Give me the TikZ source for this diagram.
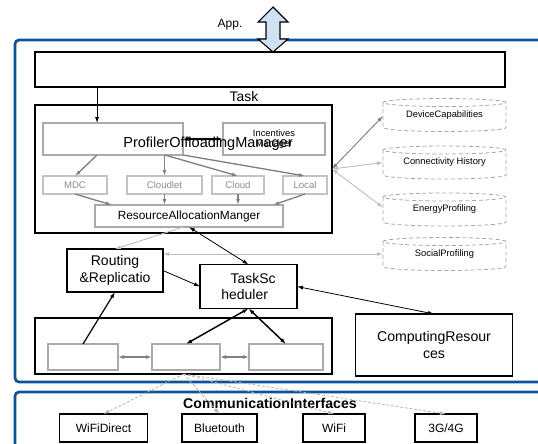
\documentclass[tikz,border=0pt]{standalone}
\usepackage{fontspec}
\setmainfont{Liberation Sans}
\usetikzlibrary{arrows.meta,calc}
\definecolor{bframe}{RGB}{12,82,148}
\definecolor{lblue}{RGB}{207,226,243}
\definecolor{gline}{RGB}{128,128,128}
\definecolor{gbox}{RGB}{170,170,170}
\definecolor{lgbox}{RGB}{195,195,195}
\definecolor{gtext}{RGB}{140,140,140}
\definecolor{lgline}{RGB}{190,190,190}
\newcommand\cylout[1]{%
  \draw[cylline] ($(#1.north)+(0,4)$) ellipse [x radius=46.125pt, y radius=3pt];
  \draw[cylline] ($(#1.north west)+(0,4)$) -- ($(#1.south west)-(0,4)$)
     arc[start angle=180, end angle=360, x radius=46.125pt, y radius=3pt]
     -- ($(#1.north east)+(0,4)$);}
\begin{document}
\begin{tikzpicture}[x=0.75pt,y=-0.75pt,
  >={Latex[length=4.5pt,width=3pt]},
  every node/.style={inner sep=0pt, outer sep=0pt, font=\fontsize{9}{11}\selectfont},
  bbox/.style={draw=black, line width=0.9pt, fill=white, align=center},
  gbx/.style={draw=gbox, line width=0.9pt, fill=white, align=center},
  rowbox/.style={draw=lgbox, line width=0.8pt, fill=white, text=gtext, font=\fontsize{7.2}{8}\selectfont, minimum height=13.5pt},
  cylnode/.style={minimum width=92.25pt, minimum height=24.75pt, font=\fontsize{7}{8}\selectfont},
  cylline/.style={draw=gray!70, line width=0.6pt, dash pattern=on 3pt off 2pt},
  ifbox/.style={draw=black, line width=0.9pt, minimum height=21pt, font=\fontsize{9}{11}\selectfont},
  darr/.style={draw=black, line width=0.6pt},
  garr/.style={draw=gline, line width=1pt, ->},
  lgarr/.style={draw=lgline, line width=0.7pt},
  dasharr/.style={draw=gray!60, line width=0.6pt, dash pattern=on 2pt off 1.5pt, ->},
  bluebox/.style={draw=bframe, line width=2pt, rounded corners=3pt}
]
\useasboundingbox (0,0) rectangle (538,443);
\clip (0,0) rectangle (538,443);

% blue frames
\draw[bluebox] (15,40) rectangle (590,382);
\draw[bluebox] (15,392) rectangle (590,480);

% App double arrow
\draw[fill=lblue, line width=0.8pt, line join=miter] (273,7) -- (288,22) -- (280,22) -- (280,39) -- (288,39) -- (273,52) -- (258,39) -- (266,39) -- (266,22) -- (258,22) -- cycle;
\node (app) at (230,25) {App.};

% top box
\node[bbox, minimum width=352.5pt, minimum height=26.25pt] (topbox) at (270,69.5) {};
\node[font=\fontsize{10.4}{12}\selectfont] (tasklbl) at (244,97) {Task};

% task box
\node[bbox, minimum width=222.75pt, minimum height=96pt] (taskbox) at (183.5,169) {};
\node[gbx, minimum width=105pt, minimum height=24pt] (prof) at (113,139) {};
\node[gbx, minimum width=76.5pt, minimum height=24pt, font=\fontsize{7}{7.5}\selectfont] (incent) at (274,139) {Incentives\\Manager};
\node[font=\fontsize{10.9}{12}\selectfont] (proftext) at (208,144) {ProfilerOffloadingManager};

\node[rowbox, minimum width=48pt] (mdc) at (75,185) {MDC};
\node[rowbox, minimum width=56.25pt] (cloudlet) at (164.5,185) {Cloudlet};
\node[rowbox, minimum width=39pt] (cloud) at (238,185) {Cloud};
\node[rowbox, minimum width=33pt] (local) at (305,185) {Local};
\node[gbx, minimum width=141pt, minimum height=16.5pt, font=\fontsize{8.9}{10}\selectfont] (ram) at (189,216) {ResourceAllocationManger};

% cylinders
\node[cylnode] (dc) at (444.5,115) {\raisebox{-2pt}{DeviceCapabilities}};
\node[cylnode] (ch) at (444.5,162.5) {\raisebox{-2pt}{Connectivity History}};
\node[cylnode] (ep) at (444.5,209.5) {\raisebox{-2pt}{EnergyProfiling}};
\node[cylnode] (sp) at (444.5,254) {\raisebox{-2pt}{SocialProfiling}};
\cylout{dc}\cylout{ch}\cylout{ep}\cylout{sp}

% middle boxes
\node[bbox, minimum width=72pt, minimum height=32.25pt, font=\fontsize{10.5}{12.6}\selectfont] (routing) at (115,270.5) {Routing\\\&Replicatio};
\node[bbox, minimum width=72.75pt, minimum height=33pt, align=left, font=\fontsize{10.5}{12.6}\selectfont] (sched) at (248.5,286.5) {\hspace*{7pt}TaskSc\\heduler};

% bottom box
\node[bbox, minimum width=222.75pt, minimum height=42pt] (botbox) at (183.5,346) {};
\node[gbx, minimum width=52.5pt, minimum height=19.5pt] (b1) at (83,357) {};
\node[gbx, minimum width=51pt, minimum height=19.5pt] (b2) at (186,357) {};
\node[gbx, minimum width=55.5pt, minimum height=19.5pt] (b3) at (286,357) {};

\node[bbox, minimum width=117.75pt, minimum height=46.5pt, font=\fontsize{10.6}{12.6}\selectfont] (comp) at (434,345) {ComputingResour\\ces};

% communication interfaces
\node[font=\bfseries\fontsize{10.6}{12}\selectfont] (comm) at (270,403) {CommunicationInterfaces};
\node[ifbox, minimum width=66pt] (wd) at (103.5,428) {WiFiDirect};
\node[ifbox, minimum width=56.25pt] (bt) at (219.5,428) {Bluetouth};
\node[ifbox, minimum width=46.5pt] (wifi) at (334,428) {WiFi};
\node[ifbox, minimum width=46.5pt] (g34) at (446,428) {3G/4G};

% connectors
\coordinate (pin) at ($(prof.north west)!.386!(prof.north east)$);
\draw[darr,->] (topbox.south -| pin) -- (pin);
\draw[darr,<->, line width=0.9pt] (prof.east) -- (incent.west);

\coordinate (p1) at ($(prof.south west)!.386!(prof.south east)$);
\coordinate (p3) at ($(prof.south west)!.87!(prof.south east)$);
\draw[garr] (p1) -- (mdc.north);
\draw[garr] (prof.south -| cloudlet.north) -- (cloudlet.north);
\draw[garr] (p3) -- (cloud.north);
\draw[garr] (prof.south east) -- (local.north);
\draw[garr] (mdc.south) -- ($(ram.north west)!.09!(ram.north east)$);
\draw[garr] (cloudlet.south) -- (ram.north -| cloudlet.south);
\draw[garr] (cloud.south) -- (ram.north -| cloud.south);
\draw[garr] (local.south) -- ($(ram.north west)!.947!(ram.north east)$);

\draw[draw=gline, line width=0.7pt, <->] (taskbox.east) -- ($(dc.west)+(0,1)$);
\draw[lgarr, <->] (taskbox.east) -- (ch.west);
\draw[lgarr, <->] (taskbox.east) -- ($(ep.west)-(0,2)$);
\draw[lgarr, <->] (routing.east |- sp.west) -- (sp.west);

\draw[lgarr, ->] ($(ram.south west)!.47!(ram.south east)$) -- (routing.north);
\draw[darr, <->] (ram.south) -- (sched.north);
\draw[darr, ->] (routing.east) -- (sched.west);
\draw[darr, ->, line width=0.9pt] (b1.north) -- (routing.south);
\draw[darr, <->, line width=1.1pt] (sched.south) -- (b2.north);
\draw[darr, <->, line width=1.1pt] (sched.south) -- (b3.north);
\draw[darr, <->] (sched.east) -- (comp.north);
\draw[draw=gline, line width=0.9pt, <->] (b1.east) -- (b2.west);
\draw[draw=gline, line width=0.9pt, <->] (b2.east) -- (b3.west);

\draw[dasharr] (botbox.south) -- (wd.north);
\draw[dasharr] (botbox.south) -- (bt.north);
\draw[dasharr] (botbox.south) -- (wifi.north);
\draw[dasharr] (botbox.south) -- (g34.north);
\end{tikzpicture}
\end{document}
